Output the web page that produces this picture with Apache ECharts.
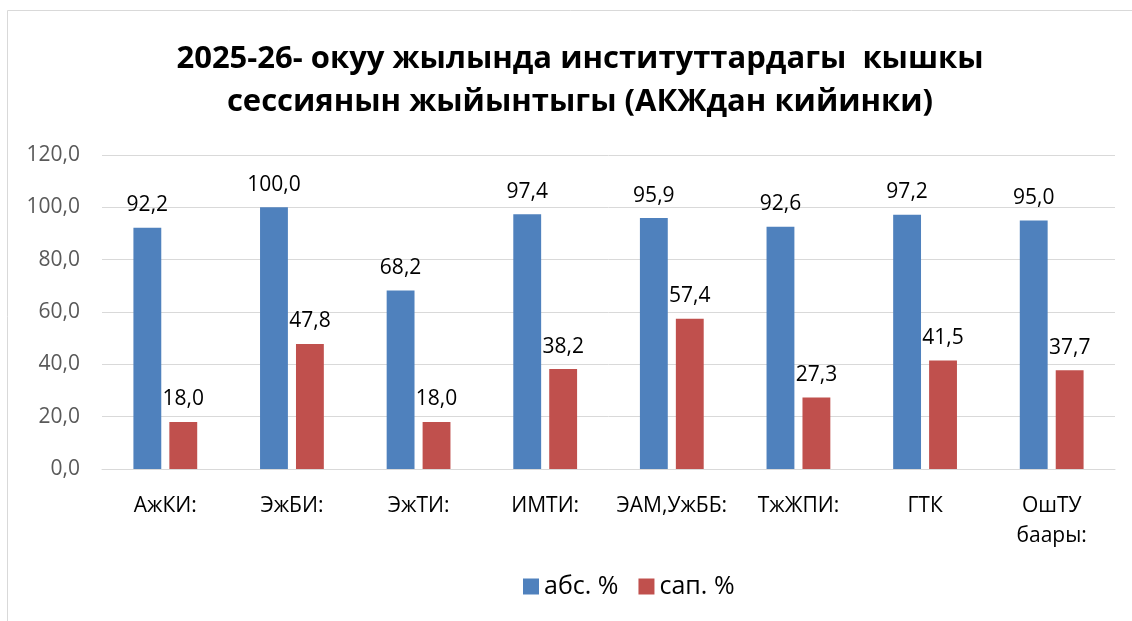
<!DOCTYPE html>
<html>
<head>
<meta charset="utf-8">
<script src="https://cdn.jsdelivr.net/npm/echarts@6/dist/echarts.min.js"></script>
<style>
  html, body { margin: 0; padding: 0; background: #fff; }
  #main { width: 1132px; height: 621px; }
</style>
</head>
<body>
<div id="main"></div>
<script>
// data
var institutes = ["АжКИ:", "ЭжБИ:", "ЭжТИ:", "ИМТИ:", "ЭАМ,УжББ:", "ТжЖПИ:", "ГТК", "ОшТУ\nбаары:"];
var absPercent = [92.2, 100.0, 68.2, 97.4, 95.9, 92.6, 97.2, 95.0];
var sapPercent = [18.0, 47.8, 18.0, 38.2, 57.4, 27.3, 41.5, 37.7];
var seriesNames = ["абс. %", "сап. %"];

var font = "'Open Sans', 'Noto Sans', sans-serif";
var fmt = function (v) { return v.toFixed(1).replace(".", ","); };

var dom = document.getElementById("main");
var myChart = echarts.init(dom);
var option = {
  animation: false,
  textStyle: { fontFamily: font },
  graphic: [{
    type: "rect",
    shape: { x: 7.5, y: 10.5, width: 1140, height: 640 },
    style: { fill: "none", stroke: "#d9d9d9", lineWidth: 1 },
    silent: true
  }],
  title: {
    text: "2025-26- окуу жылында институттардагы  кышкы\nсессиянын жыйынтыгы (АКЖдан кийинки)",
    left: 575,
    top: 33,
    textAlign: "center",
    textStyle: { fontFamily: font, fontSize: 31, fontWeight: "bold", color: "#000", lineHeight: 43 }
  },
  legend: {
    data: seriesNames,
    left: 518,
    top: 569,
    itemWidth: 16,
    itemHeight: 16,
    itemGap: 20,
    icon: "rect",
    textStyle: { fontFamily: font, fontSize: 25, color: "#000" }
  },
  grid: { left: 102, right: 17, top: 155, bottom: 152, containLabel: false },
  xAxis: {
    type: "category",
    data: institutes,
    axisLine: { lineStyle: { color: "#d9d9d9", width: 1 } },
    axisTick: { show: false },
    axisLabel: { interval: 0, fontFamily: font, fontSize: 21, color: "#000", margin: 22, lineHeight: 30 }
  },
  yAxis: {
    type: "value",
    min: 0,
    max: 120,
    interval: 20,
    axisLine: { show: false },
    axisTick: { show: false },
    splitLine: { lineStyle: { color: "#d9d9d9", width: 1 } },
    axisLabel: { fontFamily: font, fontSize: 21, color: "#595959", margin: 22, formatter: fmt }
  },
  series: [
    {
      name: seriesNames[0],
      type: "bar",
      data: absPercent,
      barWidth: "22%",
      barGap: "29%",
      itemStyle: { color: "#4f81bd" },
      label: { show: true, position: "top", distance: 12, fontFamily: font, fontSize: 21, color: "#000", formatter: function (p) { return fmt(p.value); } }
    },
    {
      name: seriesNames[1],
      type: "bar",
      data: sapPercent,
      barWidth: "22%",
      itemStyle: { color: "#c0504d" },
      label: { show: true, position: "top", distance: 12, fontFamily: font, fontSize: 21, color: "#000", formatter: function (p) { return fmt(p.value); } }
    }
  ]
};
if (option && typeof option === "object") {
  myChart.setOption(option);
}
</script>
</body>
</html>
